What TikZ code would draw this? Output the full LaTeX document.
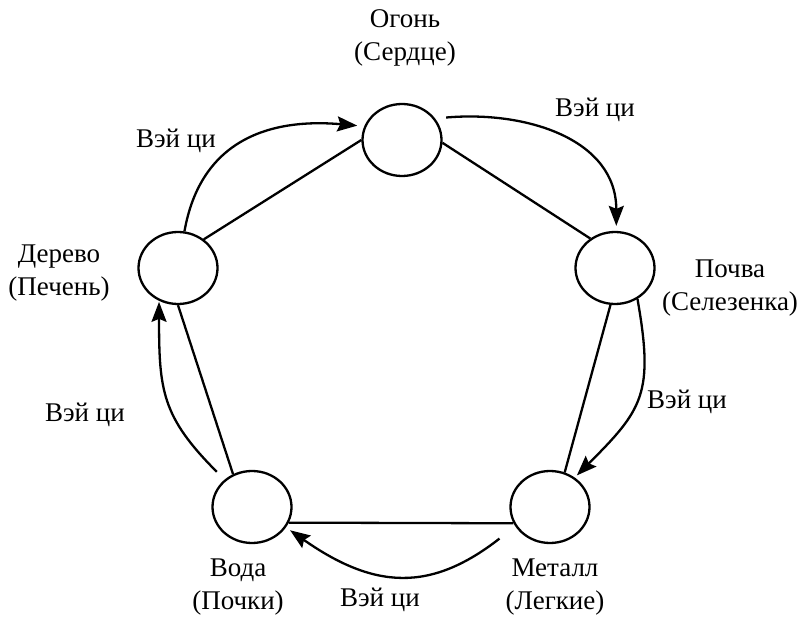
\documentclass[tikz,border=0pt]{standalone}
\usepackage{fontspec}
\setmainfont{Liberation Serif}
\usetikzlibrary{shapes.geometric,arrows.meta}

\begin{document}
\begin{tikzpicture}[x=1pt,y=1pt,line width=2.3pt,
  organ/.style={ellipse,draw,minimum width=79pt,minimum height=72pt,inner sep=0pt},
  lbl/.style={font=\fontsize{27}{33}\selectfont,align=center},
  qi/.style={-{Stealth[length=20pt,width=15pt,inset=3pt]}}]
\useasboundingbox (0,0) rectangle (805,616);
\node[organ] (fire) at (402,476) {};
\node[organ] (earth) at (615,348) {};
\node[organ] (metal) at (550,109) {};
\node[organ] (water) at (252,109) {};
\node[organ] (wood) at (178,348) {};
\node[lbl] (firelbl) at (405,578) {Огонь\\(Сердце)};
\node[lbl] (earthlbl) at (730,328) {Почва\\(Селезенка)};
\node[lbl] (metallbl) at (555,29) {Металл\\(Легкие)};
\node[lbl] (waterlbl) at (238,29) {Вода\\(Почки)};
\node[lbl] (woodlbl) at (59,343) {Дерево\\(Печень)};
\node[lbl] (qi1) at (176,475) {Вэй ци};
\node[lbl] (qi2) at (595,506) {Вэй ци};
\node[lbl] (qi3) at (687,214) {Вэй ци};
\node[lbl] (qi4) at (380,16) {Вэй ци};
\node[lbl] (qi5) at (85,201) {Вэй ци};
\draw (wood.48) -- (fire.180);
\draw (fire.-4) -- (earth.130);
\draw (earth.263) -- (metal.67);
\draw (metal.204) -- (water.337);
\draw (water.120) -- (wood.270);
\draw[qi,shorten >=7pt] (wood.80) to[out=80,in=175,looseness=1.15] (fire.160);
\draw[qi,shorten <=11pt,shorten >=5pt] (fire.33) to[out=5,in=90,looseness=1.1] (earth.88);
\draw[qi,shorten >=3pt] (earth.-54) to[out=-80,in=45,looseness=1.3] (metal.50);
\draw[qi,shorten <=20pt,shorten >=5pt] (metal.209) to[out=218,in=-35,looseness=1.2] (water.-31);
\draw[qi,shorten <=11pt,shorten >=1pt] (water.135) to[out=135,in=-90,looseness=1.2] (wood.240);
\end{tikzpicture}
\end{document}
